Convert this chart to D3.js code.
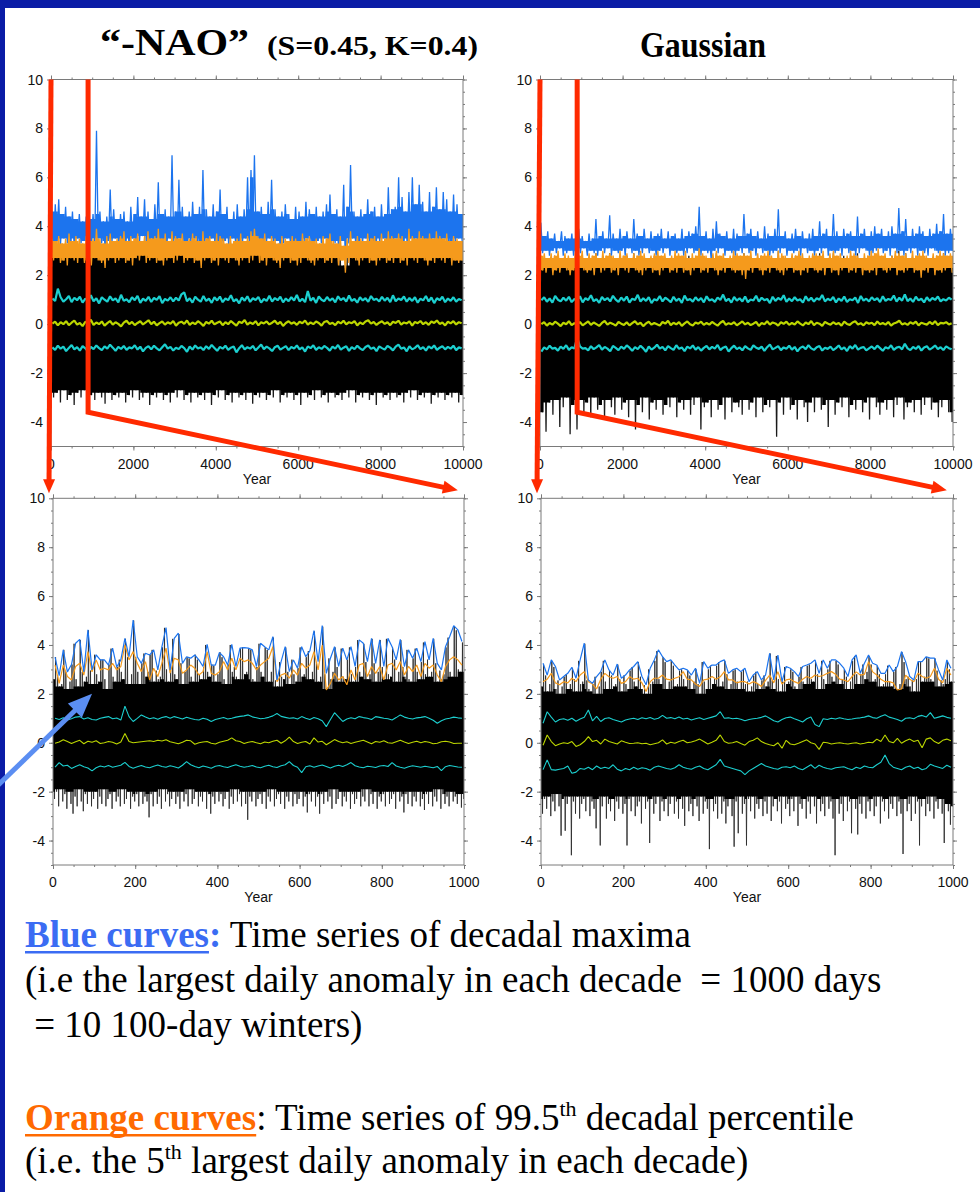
<!DOCTYPE html>
<html><head><meta charset="utf-8">
<script src="https://cdn.jsdelivr.net/npm/d3@7"></script>
<style>body{margin:0;background:#fff}svg{display:block}</style>
</head><body>
<script>
// ---------------- DATA ----------------
// x tick labels
const topTicks = [0,2000,4000,6000,8000,10000];
const botTicks = [0,200,400,600,800,1000];
const yTicks = [-4,-2,0,2,4,6,8,10];

// ===== Top-left "-NAO" (10000 years, 120 bins of envelope hi/lo) =====
const tlBlueHi = [4.6,4.9,5.1,4.5,4.8,4.4,4.6,4.3,4.5,4.2,4.4,4.3,4.5,7.9,4.6,4.2,4.4,5.5,4.7,4.3,4.5,4.6,4.2,4.8,4.5,5.2,4.4,5.1,4.6,4.3,4.9,5.8,4.5,4.7,4.4,6.9,4.6,5.9,4.8,4.4,4.6,5.0,4.5,4.8,6.3,4.7,4.4,4.9,4.6,5.5,4.5,4.8,4.3,4.6,4.9,4.4,4.7,6.0,6.3,6.9,4.6,4.8,4.5,5.0,5.9,4.7,4.4,4.6,4.9,4.5,4.3,4.8,4.6,4.4,5.0,4.7,4.5,4.8,4.4,4.6,4.9,5.3,4.5,4.7,4.4,5.7,4.8,6.5,4.6,4.4,4.7,4.5,5.1,4.6,4.8,4.4,4.9,4.5,5.6,4.7,4.8,6.0,5.2,4.6,5.4,6.0,4.9,5.7,5.0,4.6,5.4,4.8,5.6,4.7,5.4,5.1,4.6,5.3,4.9,4.5];
const tlBlueLo = [3.3,3.4,3.2,3.5,3.3,3.4,3.2,3.5,3.3,3.4,3.2,3.4,3.3,3.5,3.3,3.1,3.4,3.3,3.5,3.2,3.4,3.3,3.2,3.5,3.4,3.3,3.6,3.2,3.4,3.3,3.5,3.3,3.4,3.2,3.5,3.4,3.3,3.5,3.2,3.4,3.3,3.5,3.3,3.1,3.4,3.3,3.5,3.2,3.4,3.3,3.4,3.2,3.5,3.3,3.4,3.2,3.5,3.3,3.4,3.5,3.3,3.4,3.2,3.5,3.3,3.4,3.1,3.3,3.5,3.2,3.4,3.3,3.2,3.4,3.5,3.3,3.2,3.4,3.3,3.5,3.2,3.4,3.3,3.0,3.4,2.3,3.3,3.5,3.2,3.4,3.3,3.5,3.4,3.2,3.4,3.3,3.5,3.2,3.4,3.3,3.5,3.3,3.4,3.2,3.5,3.4,3.3,3.5,3.2,3.4,3.3,3.5,3.4,3.3,3.5,3.2,3.4,3.3,3.5,3.4];
const tlOrangeHi = [3.5,3.4,3.6,3.3,3.5,3.7,3.4,3.6,3.5,3.3,3.6,3.4,3.5,3.9,3.5,3.3,3.6,3.7,3.4,3.5,3.6,3.8,3.4,3.6,3.5,3.7,3.4,3.6,3.8,3.5,3.6,3.9,3.5,3.7,3.4,3.8,3.6,3.5,3.7,3.4,3.5,3.7,3.6,3.4,3.8,3.5,3.6,3.4,3.7,3.6,3.5,3.3,3.6,3.4,3.5,3.7,3.4,3.6,3.8,3.9,3.6,3.5,3.7,3.4,3.6,3.5,3.3,3.6,3.5,3.4,3.6,3.5,3.4,3.7,3.5,3.6,3.4,3.5,3.3,3.6,3.5,3.7,3.4,3.3,3.6,3.2,3.5,3.8,3.4,3.6,3.5,3.4,3.7,3.5,3.6,3.4,3.7,3.5,3.8,3.6,3.5,3.7,3.6,3.4,3.9,3.6,3.5,3.8,3.6,3.5,3.7,3.5,3.8,3.6,3.5,3.7,3.4,3.6,3.5,3.4];
const tlOrangeLo = [2.6,2.7,2.5,2.6,2.4,2.7,2.6,2.5,2.7,2.5,2.6,2.4,2.7,2.6,2.5,2.3,2.6,2.7,2.5,2.6,2.7,2.5,2.6,2.4,2.7,2.6,2.8,2.5,2.6,2.7,2.5,2.6,2.4,2.6,2.7,2.5,2.6,2.8,2.5,2.6,2.7,2.5,2.6,2.3,2.6,2.7,2.5,2.6,2.4,2.7,2.6,2.5,2.7,2.6,2.4,2.6,2.7,2.5,2.6,2.8,2.5,2.6,2.4,2.7,2.6,2.5,2.3,2.6,2.7,2.5,2.6,2.4,2.5,2.7,2.6,2.5,2.4,2.6,2.7,2.5,2.6,2.5,2.7,2.4,2.6,2.1,2.5,2.7,2.6,2.4,2.6,2.7,2.5,2.6,2.4,2.6,2.7,2.5,2.6,2.5,2.7,2.5,2.6,2.4,2.7,2.6,2.5,2.7,2.6,2.4,2.6,2.5,2.7,2.6,2.5,2.7,2.4,2.6,2.5,2.6];
const tlBlackHi = [3.0,2.8,3.2,2.9,3.1,2.7,3.3,2.9,3.0,2.8,3.1,2.9,3.2,3.4,2.8,3.0,2.9,3.2,3.0,2.8,3.1,3.0,2.8,3.2,2.9,3.1,3.0,3.3,2.9,2.8,3.1,3.2,2.9,3.0,2.8,3.3,3.0,3.1,2.9,2.8,3.0,3.2,2.9,2.8,3.3,3.0,2.9,3.1,2.8,3.2,3.0,2.9,3.1,2.8,3.0,3.2,2.9,3.3,3.1,3.4,3.0,2.9,3.1,2.8,3.2,3.0,2.7,3.0,3.1,2.9,3.0,2.8,2.9,3.1,3.0,3.2,2.8,3.0,2.9,3.1,3.0,3.2,2.9,2.7,3.0,2.4,2.9,3.3,3.0,2.8,3.1,2.9,3.2,3.0,3.1,2.8,3.2,3.0,3.3,3.1,3.0,3.3,3.1,2.9,3.4,3.2,3.0,3.3,3.1,2.9,3.2,3.0,3.3,3.1,3.0,3.2,2.9,3.1,3.0,2.9];
const tlBlackLo = [-3.0,-2.8,-3.2,-2.7,-3.1,-2.9,-3.3,-2.8,-3.0,-2.7,-3.2,-2.9,-3.1,-2.8,-3.0,-3.25,-2.8,-3.1,-2.9,-3.0,-2.8,-3.2,-2.9,-3.0,-2.7,-3.1,-3.0,-2.8,-3.3,-2.9,-3.0,-2.8,-3.1,-2.9,-3.2,-2.8,-3.0,-2.7,-3.1,-2.9,-3.2,-2.8,-3.0,-2.9,-3.1,-2.8,-3.3,-2.9,-3.0,-2.7,-3.1,-2.9,-3.2,-2.8,-3.0,-2.9,-3.1,-2.8,-3.25,-2.9,-3.0,-2.8,-3.1,-2.9,-3.0,-2.7,-3.2,-2.9,-3.0,-2.8,-3.1,-2.9,-3.3,-2.8,-3.0,-2.9,-3.1,-2.7,-3.0,-2.9,-3.2,-2.8,-3.0,-2.9,-3.1,-2.8,-3.0,-2.7,-3.2,-2.9,-3.0,-2.8,-3.1,-2.9,-3.3,-2.8,-3.0,-2.9,-3.1,-2.8,-3.0,-2.9,-3.2,-2.8,-3.0,-2.7,-3.1,-2.9,-3.0,-2.8,-3.25,-2.9,-3.0,-2.8,-3.1,-2.9,-3.0,-2.8,-3.2,-2.9];
const tlCyanHi = [1.05,0.95,1.45,1.10,0.92,1.02,1.15,0.90,1.08,0.98,1.12,0.88,1.04,0.96,1.18,0.94,1.06,0.85,1.10,1.00,0.92,1.14,0.97,1.05,0.89,1.20,0.95,1.02,0.90,1.10,0.98,1.16,0.87,1.04,0.95,1.12,0.91,1.07,0.99,1.15,0.86,1.03,0.96,1.10,0.93,1.08,0.97,1.22,1.30,0.94,1.06,0.88,1.12,1.00,0.92,1.15,0.95,1.04,0.87,1.10,0.97,1.13,0.90,1.05,0.98,1.18,0.93,1.02,0.85,1.09,0.96,1.14,0.91,1.06,0.99,1.11,0.88,1.03,0.95,1.16,0.92,1.07,0.98,1.12,0.89,1.05,0.94,1.10,0.97,1.19,0.93,1.04,0.90,1.35,0.96,1.08,0.87,1.13,1.00,0.94,1.11,0.96,1.05,0.89,1.14,0.98,1.07,0.92,1.17,0.95,1.03,0.88,1.10,0.97,1.06,0.91,1.15,0.99,1.04,0.93,1.12,0.96,1.08,0.90,1.18,0.94,1.05,0.99,1.13,0.92,1.07,0.95,1.10,0.88,1.04,0.97,1.15,0.93,1.09,0.86,1.06,0.98,1.12,0.90,1.05,0.95,1.10,0.92,1.03,0.98];
const tlYellow = [0.02,0.10,-0.05,0.08,0.00,0.12,-0.04,0.06,0.15,-0.02,0.05,-0.08,0.10,0.03,0.18,-0.03,0.07,0.00,0.11,-0.06,0.04,0.13,-0.02,0.08,0.01,-0.09,0.06,0.14,0.00,0.09,-0.04,0.05,0.12,-0.01,0.07,0.16,0.00,0.10,-0.05,0.04,0.11,-0.02,0.08,0.02,0.13,-0.06,0.06,0.10,0.01,0.15,-0.03,0.07,0.00,0.12,0.04,-0.07,0.09,0.02,0.14,-0.01,0.06,0.11,-0.04,0.08,0.00,0.13,0.03,-0.06,0.10,0.05,0.17,-0.02,0.07,0.01,0.12,-0.05,0.08,0.03,0.11,-0.01,0.06,0.14,0.00,0.09,-0.07,0.05,0.12,0.02,0.08,-0.03,0.10,0.04,0.15,-0.02,0.07,0.00,0.11,0.05,-0.06,0.09,0.13,0.01,0.06,-0.04,0.10,0.03,0.14,-0.01,0.08,0.04,0.12,-0.05,0.07,0.00,0.11,0.16,0.02,0.09,-0.03,0.06,0.12,0.01,0.08,-0.04,0.10,0.05,0.14,-0.02,0.07,0.03,0.11,-0.06,0.09,0.04,0.13,0.00,0.08,-0.03,0.11,0.05,0.15,0.01,0.07,-0.05,0.10,0.03,0.12,-0.01,0.08,0.04];
const tlCyanLo = [-0.95,-1.05,-0.88,-1.00,-0.92,-1.10,-0.97,-0.85,-1.03,-0.94,-1.08,-0.90,-0.99,-1.12,-0.93,-1.02,-0.87,-0.98,-1.06,-0.91,-1.00,-0.84,-0.96,-1.09,-0.93,-1.01,-0.89,-1.05,-0.95,-0.99,-0.86,-1.04,-0.92,-1.11,-0.97,-0.90,-1.03,-0.88,-0.99,-1.07,-0.94,-0.82,-1.00,-0.93,-1.08,-0.96,-1.02,-0.89,-0.98,-1.13,-0.91,-1.04,-0.87,-0.99,-0.94,-1.06,-0.90,-1.01,-0.85,-0.97,-1.09,-0.93,-1.00,-0.88,-1.05,-0.96,-0.91,-1.15,-0.98,-0.86,-1.03,-0.94,-1.00,-0.89,-1.07,-0.95,-0.83,-1.02,-0.92,-0.99,-1.10,-0.94,-0.88,-1.04,-0.97,-0.90,-1.06,-0.93,-1.00,-0.87,-1.03,-0.95,-1.12,-0.91,-0.98,-0.86,-1.05,-0.94,-1.01,-0.89,-0.97,-1.08,-0.92,-1.00,-0.85,-1.04,-0.96,-0.90,-1.09,-0.94,-1.02,-0.88,-0.99,-1.06,-0.93,-0.87,-1.01,-0.95,-1.10,-0.91,-0.98,-1.04,-0.89,-0.96,-1.07,-0.92,-0.84,-1.00,-0.95,-1.11,-0.90,-1.03,-0.97,-0.86,-1.02,-0.94,-1.08,-0.91,-0.99,-0.87,-1.05,-0.96,-0.90,-1.03,-0.93,-1.00,-0.88,-1.06,-0.95,-0.99];

// ===== Top-right "Gaussian" =====
const trBlueHi = [4.15,3.6,3.8,3.5,3.7,3.4,3.8,3.6,3.5,3.7,3.5,3.9,3.6,3.4,3.7,3.5,4.3,3.6,3.8,3.5,4.45,3.7,3.5,3.9,3.6,3.8,3.5,4.3,3.7,3.6,3.9,3.5,3.8,3.6,3.7,3.9,3.5,3.8,3.6,3.7,3.5,3.9,3.6,3.8,3.7,4.0,4.8,3.6,3.8,3.5,3.9,4.2,3.7,3.6,3.8,3.5,3.9,3.7,3.6,4.5,3.7,3.9,3.6,3.8,3.5,4.0,3.7,3.6,3.9,4.7,3.6,3.8,3.5,3.7,3.9,3.6,3.8,3.5,3.7,3.9,3.6,4.2,3.7,3.9,3.6,4.5,3.8,3.6,3.9,3.7,3.8,3.6,4.4,3.7,3.9,3.6,3.8,4.0,3.7,3.9,3.6,3.8,4.0,3.7,4.75,3.8,4.3,3.6,3.9,3.7,4.0,3.8,3.6,3.9,3.7,4.1,3.8,4.5,3.7,3.9];
const trBlueLo = [2.9,3.0,2.8,3.0,2.9,3.1,2.8,2.9,3.0,2.8,3.0,2.9,3.1,2.8,3.0,2.9,2.8,3.0,2.9,3.1,2.8,3.0,2.9,3.0,2.8,3.1,2.9,3.0,2.8,2.9,3.1,2.9,3.0,2.8,3.0,2.9,3.1,2.8,3.0,2.9,3.0,2.8,2.9,3.1,2.9,3.0,2.8,3.0,2.9,2.6,3.0,2.9,3.1,2.8,3.0,2.9,2.8,3.0,2.9,3.1,2.9,3.0,2.8,3.1,2.9,3.0,2.8,2.9,3.0,2.9,3.1,2.8,3.0,2.9,3.0,2.8,3.1,2.9,3.0,2.8,3.0,2.9,3.1,2.8,3.0,2.9,3.0,2.8,3.1,2.9,3.0,2.8,2.9,3.1,3.0,2.8,2.9,3.0,3.1,2.9,3.0,2.8,3.1,2.9,3.0,2.8,3.0,2.9,3.1,2.8,3.0,2.9,2.8,3.1,3.0,2.9,3.0,2.8,2.9,3.0];
const trOrangeHi = [2.8,2.9,2.7,2.9,2.8,3.0,2.7,2.9,2.8,2.7,2.9,2.8,3.0,2.7,2.9,2.8,2.9,2.7,3.0,2.8,2.9,2.8,2.7,3.0,2.8,2.9,2.7,2.9,2.8,3.0,2.9,2.7,2.8,2.9,3.0,2.8,2.9,2.7,2.8,3.0,2.9,2.8,3.0,2.7,2.9,2.8,3.1,2.9,2.8,2.7,2.9,3.0,2.8,2.9,2.7,2.8,3.0,2.9,2.8,2.9,2.8,3.0,2.7,2.9,2.8,2.9,3.0,2.8,2.7,3.0,2.9,2.8,2.7,2.9,2.8,3.0,2.9,2.7,2.8,2.9,2.9,2.8,3.0,2.7,2.9,3.0,2.8,2.9,2.7,2.8,3.0,2.9,2.8,2.7,2.9,2.8,3.0,2.9,3.1,2.8,2.9,2.7,2.8,3.0,2.9,2.8,2.9,2.7,3.0,2.8,2.9,3.0,2.8,2.7,2.9,2.8,3.0,2.9,2.8,2.9];
const trOrangeLo = [2.2,2.1,2.3,2.0,2.2,2.1,2.3,2.2,2.0,2.2,2.1,2.3,2.2,2.1,2.2,2.0,2.3,2.1,2.2,2.3,2.1,2.2,2.0,2.3,2.2,2.1,2.3,2.2,2.1,2.0,2.2,2.3,2.1,2.2,2.0,2.2,2.3,2.1,2.2,2.1,2.3,2.1,2.2,2.0,2.2,2.3,2.1,2.2,2.1,2.3,2.2,2.0,2.2,2.1,2.3,2.2,2.1,2.2,2.0,1.85,2.2,2.1,2.3,2.2,2.0,2.2,2.1,2.3,2.2,2.1,2.0,2.2,2.3,2.1,2.2,2.0,2.2,2.1,2.3,2.2,2.1,2.2,2.0,2.3,2.1,2.2,2.0,2.2,2.3,2.1,2.2,2.1,2.3,2.0,2.2,2.1,2.2,2.0,2.3,2.2,2.1,2.2,2.3,2.0,2.2,2.1,2.2,2.3,2.1,2.2,1.9,2.2,2.1,2.3,2.0,2.2,2.1,2.2,2.3,2.1];
const trBlackHi = [2.6,2.4,2.7,2.5,2.8,2.4,2.6,2.5,2.7,2.4,2.6,2.8,2.5,2.4,2.7,2.6,2.9,2.5,2.7,2.4,2.9,2.6,2.5,2.7,2.4,2.8,2.5,2.9,2.6,2.5,2.7,2.4,2.6,2.8,2.5,2.7,2.4,2.6,2.5,2.8,2.6,2.7,2.5,2.8,2.4,2.6,3.0,2.5,2.7,2.4,2.6,2.9,2.5,2.7,2.6,2.4,2.8,2.5,2.6,2.9,2.5,2.7,2.4,2.6,2.8,2.5,2.7,2.4,2.6,3.0,2.5,2.7,2.4,2.6,2.8,2.5,2.7,2.4,2.6,2.8,2.5,2.9,2.6,2.7,2.4,2.9,2.6,2.5,2.8,2.4,2.7,2.5,2.9,2.6,2.7,2.4,2.6,2.8,2.5,2.7,2.6,2.4,2.8,2.5,3.0,2.6,2.9,2.4,2.7,2.5,2.8,2.6,2.4,2.7,2.5,2.8,2.6,2.9,2.5,2.7];
const trBlackLo = [-3.6,-4.4,-3.2,-3.7,-3.1,-4.2,-3.4,-3.0,-4.5,-3.3,-4.3,-3.1,-3.6,-3.2,-3.8,-3.0,-3.5,-3.3,-3.9,-3.1,-3.4,-3.7,-3.0,-3.5,-3.2,-3.8,-3.1,-4.3,-3.3,-3.6,-3.0,-3.9,-3.2,-3.5,-3.1,-3.7,-3.3,-3.4,-3.0,-3.8,-3.2,-3.5,-3.1,-3.7,-3.3,-3.0,-4.3,-3.4,-3.2,-3.8,-3.1,-3.5,-3.3,-3.9,-3.0,-3.6,-3.2,-3.4,-3.7,-3.1,-3.5,-3.2,-3.8,-3.0,-3.6,-3.3,-3.4,-3.1,-4.6,-3.2,-3.7,-3.0,-3.5,-3.3,-3.9,-3.1,-3.4,-4.0,-3.2,-3.6,-3.0,-3.5,-3.3,-4.2,-3.1,-3.7,-3.2,-3.4,-3.0,-3.8,-3.3,-3.5,-3.1,-3.6,-3.2,-3.9,-3.0,-3.4,-3.7,-3.2,-3.5,-3.1,-3.8,-3.3,-3.0,-3.9,-3.4,-3.2,-3.6,-3.1,-3.7,-3.3,-3.0,-3.5,-3.2,-3.8,-3.4,-3.1,-3.6,-4.0];
const trCyanHi = [0.98,1.10,0.92,1.05,0.88,1.15,1.00,0.93,1.08,0.96,1.12,0.90,1.03,0.97,1.14,0.89,1.06,0.99,1.18,0.94,1.02,0.87,1.11,0.98,1.07,0.93,1.16,1.00,0.91,1.09,0.96,1.13,0.88,1.04,0.99,1.20,0.92,1.06,0.95,1.10,0.86,1.02,0.97,1.15,0.93,1.08,1.00,0.90,1.12,0.95,1.05,0.87,1.17,0.98,1.03,0.92,1.10,0.96,1.07,0.89,1.14,0.97,1.02,0.91,1.09,0.99,1.21,0.94,1.04,0.88,1.11,0.96,1.06,0.93,1.13,0.90,1.01,0.97,1.16,0.92,1.08,0.98,1.03,0.86,1.12,0.95,1.07,0.99,1.18,0.91,1.05,0.94,1.10,0.97,1.02,0.88,1.14,0.96,1.08,0.92,1.06,1.00,1.19,0.93,1.04,0.97,1.11,0.89,1.05,0.95,1.13,0.91,1.02,0.98,1.09,0.87,1.15,0.96,1.04,0.93,1.10,0.98,1.06,0.90,1.14,0.95,1.03,0.99,1.17,0.92,1.08,0.96,1.22,0.94,1.05,0.91,1.12,0.97,1.04,0.89,1.10,0.95,1.07,0.99,1.13,0.93,1.02,0.97,1.08,1.00];
const trYellow = [0.00,0.08,-0.06,0.05,-0.02,0.10,0.02,-0.08,0.06,0.00,0.12,-0.04,0.04,-0.01,0.09,-0.05,0.03,0.11,-0.03,0.07,0.00,-0.07,0.05,0.13,-0.02,0.06,0.01,-0.06,0.09,0.02,-0.03,0.08,-0.05,0.04,0.12,-0.01,0.06,-0.08,0.03,0.10,-0.02,0.05,0.00,-0.06,0.09,0.02,0.14,-0.04,0.06,-0.01,0.08,-0.07,0.03,0.11,0.00,-0.05,0.07,0.02,0.10,-0.03,0.05,-0.02,0.09,0.01,-0.06,0.06,0.13,-0.03,0.04,0.00,0.08,-0.05,0.03,0.11,-0.01,0.06,-0.04,0.02,0.09,-0.07,0.05,0.00,0.12,-0.02,0.07,0.03,-0.06,0.08,0.01,0.10,-0.03,0.05,-0.01,0.11,0.02,-0.05,0.07,0.00,0.13,-0.04,0.06,0.02,-0.07,0.09,0.03,-0.02,0.08,0.00,0.05,-0.06,0.10,0.01,-0.03,0.07,0.12,-0.01,0.04,-0.05,0.08,0.02,0.06,-0.04,0.11,0.00,0.05,-0.02,0.09,-0.06,0.03,0.07,0.14,-0.01,0.04,-0.03,0.08,0.01,0.10,-0.05,0.06,0.02,-0.02,0.09,0.00,0.12,-0.04,0.05,0.03,0.08,-0.01,0.04];
const trCyanLo = [-1.12,-0.95,-1.03,-0.88,-1.00,-0.97,-1.08,-0.92,-1.01,-0.86,-1.05,-0.94,-0.99,-0.55,-0.91,-1.00,-0.98,-1.07,-0.90,-1.02,-0.95,-0.85,-1.04,-0.93,-1.00,-1.11,-0.89,-0.97,-1.06,-0.92,-1.01,-0.87,-0.96,-1.09,-0.94,-1.02,-0.88,-0.99,-1.13,-0.91,-1.04,-0.96,-0.84,-1.00,-0.93,-1.07,-0.90,-0.98,-1.05,-0.86,-1.01,-0.95,-1.10,-0.92,-0.99,-0.87,-1.04,-0.94,-1.08,-0.97,-0.89,-1.03,-0.93,-1.00,-0.85,-1.06,-0.96,-0.91,-1.12,-0.98,-0.88,-1.02,-0.95,-1.07,-0.90,-0.99,-1.05,-0.87,-0.96,-1.01,-0.92,-1.09,-0.94,-0.83,-1.03,-0.97,-0.90,-1.06,-0.95,-1.00,-0.88,-1.04,-0.93,-1.11,-0.97,-0.91,-1.02,-0.86,-0.99,-1.05,-0.94,-0.89,-1.08,-0.96,-1.01,-0.92,-1.06,-0.98,-0.87,-1.03,-0.95,-1.10,-0.90,-1.00,-0.85,-1.04,-0.97,-0.93,-1.07,-0.99,-0.91,-1.02,-0.88,-0.98,-1.09,-0.94,-1.00,-0.86,-1.05,-0.96,-0.92,-1.03,-0.80,-0.99,-1.06,-0.93,-1.01,-0.89,-1.08,-0.95,-0.90,-1.04,-0.97,-0.87,-1.02,-0.94,-1.06,-0.91,-0.98,-1.03];

// ===== Bottom-left "-NAO" zoom (1000 years, decadal) =====
const blBlue = [3.5,2.75,3.8,2.9,3.2,4.07,4.23,2.9,4.62,2.98,3.6,3.39,3.39,3.18,3.87,3.1,3.39,4.27,3.52,5.02,3.52,3.25,3.66,3.59,3.8,2.98,3.93,4.71,2.98,4.27,4.48,3.25,3.52,3.46,3.59,3.39,3.12,4.03,3.18,3.18,3.69,3.52,3.18,4.03,3.12,3.87,3.89,3.87,3.8,3.12,4.07,3.93,3.8,4.34,2.57,3.32,3.93,2.91,3.39,3.05,3.93,3.52,3.76,4.59,3.32,4.79,2.84,3.46,3.93,3.12,3.87,3.39,3.93,3.12,4.21,4.07,3.32,4.27,3.25,4.21,3.12,4.27,3.93,3.39,4.23,3.12,3.8,3.46,3.87,3.32,4.14,3.39,4.27,3.25,2.98,3.93,4.34,4.79,4.62,4.14];
const blOrange = [3.18,2.43,3.18,2.71,2.57,3.12,3.25,2.77,3.73,2.9,3.39,2.98,3.05,2.98,3.25,2.98,3.12,4.0,3.39,3.73,3.25,2.91,3.32,2.57,3.05,2.71,3.25,3.87,2.85,3.46,3.39,2.84,2.98,3.18,3.05,2.77,2.91,3.73,2.84,2.77,2.91,3.32,2.98,3.46,2.98,3.46,3.32,3.39,3.25,2.98,3.18,3.32,3.46,3.93,2.5,2.77,2.84,2.64,2.98,2.77,3.25,3.05,3.18,3.73,2.98,4.0,2.16,2.43,2.84,2.57,2.71,2.37,2.98,2.57,3.18,3.25,2.71,3.12,2.84,3.12,2.57,3.18,3.25,2.98,3.32,2.77,3.12,2.91,3.18,2.71,3.25,3.05,3.18,2.77,2.5,3.12,3.39,3.52,3.39,3.18];
const blCyanHi = [1.00,0.95,1.02,0.93,0.98,1.05,1.07,0.97,1.02,0.95,0.93,1.00,1.04,1.07,0.98,1.01,0.93,1.50,1.07,0.87,1.00,1.14,1.05,0.98,1.02,0.96,1.03,1.07,1.00,1.07,1.02,0.97,1.04,0.99,0.95,0.93,1.00,0.96,0.87,0.95,0.99,1.03,0.97,1.00,1.05,1.08,1.10,1.14,1.06,1.02,0.98,1.00,1.04,1.10,1.20,1.08,1.04,1.00,1.02,0.97,1.07,1.00,0.95,1.03,0.98,0.90,0.66,0.95,1.23,1.05,0.87,0.97,1.02,0.98,1.07,1.03,1.00,0.95,1.07,1.04,1.00,0.98,0.93,1.03,1.14,1.05,1.00,0.97,1.02,1.04,1.07,1.00,0.92,0.80,0.90,0.97,1.00,1.05,1.02,1.00];
const blYellow = [-0.02,0.03,0.12,0.05,-0.03,0.04,0.10,-0.04,0.06,0.02,0.08,-0.03,0.00,0.05,0.02,-0.05,0.03,0.38,0.05,0.00,0.02,0.04,0.06,0.08,0.05,0.10,0.07,0.12,0.04,0.00,-0.04,0.02,0.10,0.08,-0.06,0.00,0.03,0.05,-0.02,-0.05,0.02,0.06,0.10,0.20,0.08,0.05,-0.03,0.02,0.05,0.00,-0.04,0.03,0.00,0.06,0.10,-0.02,0.08,0.23,0.05,-0.03,0.02,0.05,-0.05,0.20,0.03,0.06,-0.08,0.02,0.13,0.05,0.00,0.04,-0.03,0.02,0.06,0.10,0.03,-0.04,0.05,0.02,0.08,0.00,-0.02,0.04,0.10,0.03,-0.03,0.02,0.06,0.00,0.05,0.02,-0.04,-0.02,0.04,0.06,0.03,-0.03,-0.02,-0.02];
const blCyanLo = [-1.00,-0.81,-0.95,-0.92,-1.05,-0.97,-0.90,-0.98,-1.03,-1.15,-1.02,-0.95,-0.99,-0.93,-1.00,-0.96,-0.92,-0.80,-0.97,-1.04,-0.98,-0.93,-0.99,-1.02,-0.96,-0.91,-0.97,-1.00,-0.94,-0.98,-1.03,-0.92,-0.77,-0.90,-0.97,-1.02,-0.95,-0.99,-1.04,-0.96,-0.93,-0.98,-1.01,-0.95,-0.90,-0.96,-1.00,-0.97,-0.93,-0.99,-1.02,-0.96,-0.92,-0.98,-1.01,-0.94,-0.90,-0.77,-0.93,-1.00,-1.22,-0.98,-0.94,-1.00,-0.95,-0.91,-0.97,-1.03,-0.96,-0.92,-0.97,-0.90,-0.81,-0.94,-0.99,-1.02,-0.96,-0.98,-1.01,-0.95,-0.93,-0.97,-0.81,-0.95,-1.00,-1.04,-0.98,-0.94,-0.97,-1.00,-0.96,-0.99,-1.02,-0.97,-1.14,-0.98,-0.93,-0.96,-0.99,-1.00];
const blBlackHi = [2.6,3.5,2.75,2.3,2.4,3.8,2.9,2.2,2.5,3.2,4.05,2.6,2.3,4.2,2.9,2.5,2.7,4.6,2.95,2.4,3.6,2.8,2.5,3.4,3.4,2.6,2.2,3.2,3.85,2.7,2.5,3.1,3.4,2.9,2.6,4.25,3.5,2.4,2.8,5.0,3.5,2.9,2.4,3.25,3.65,2.7,2.9,3.6,3.8,2.5,2.95,2.6,2.7,3.9,4.7,3.0,2.5,2.95,4.25,2.8,2.6,4.45,3.25,2.4,2.9,3.5,3.45,2.7,2.5,3.6,3.4,2.8,2.6,3.1,4.0,2.9,2.7,3.2,3.15,2.5,2.8,3.7,3.5,2.6,2.4,3.2,4.0,2.9,3.1,2.7,2.6,3.85,3.9,2.8,2.9,3.85,3.8,2.6,2.5,3.1,4.05,2.9,2.7,3.9,3.8,2.5,2.9,4.3,2.55,2.3,3.3,2.7,2.6,3.9,2.9,2.4,3.4,2.8,2.5,3.05,3.9,2.7,2.8,3.5,3.75,2.6,2.9,4.55,3.3,2.5,2.7,4.75,2.8,2.2,3.45,2.6,2.9,3.9,3.1,2.5,3.85,2.7,2.6,3.4,3.9,2.8,2.5,3.1,4.2,2.9,2.7,4.05,3.3,2.6,2.8,4.25,3.25,2.5,2.9,4.2,3.1,2.6,4.25,2.8,2.7,3.9,3.4,2.5,2.9,4.2,3.1,2.7,3.8,2.6,2.5,3.45,3.85,2.9,2.6,3.3,4.1,2.8,3.4,2.7,2.9,4.25,3.25,2.5,2.95,2.6,2.8,3.9,4.3,2.9,2.7,4.75,4.6,3.0,2.9,4.1];
const blBlackLo = [-2.3,-2.0,-2.6,-1.9,-2.4,-2.1,-2.7,-2.0,-2.5,-2.9,-2.2,-2.6,-1.9,-2.4,-2.8,-2.1,-2.5,-2.0,-2.6,-2.3,-2.0,-2.7,-2.2,-2.5,-1.9,-2.6,-2.3,-2.1,-2.7,-2.0,-2.4,-2.2,-2.6,-1.9,-2.5,-2.3,-2.0,-2.7,-2.2,-2.4,-2.1,-2.6,-2.0,-2.5,-2.2,-2.4,-3.05,-2.1,-2.6,-2.0,-2.5,-2.2,-2.7,-1.9,-2.4,-2.1,-2.6,-2.3,-2.0,-2.5,-2.2,-2.7,-2.0,-2.4,-2.1,-2.6,-1.9,-2.5,-2.3,-2.0,-2.6,-2.2,-2.4,-2.0,-2.7,-2.1,-2.9,-2.2,-2.5,-2.0,-2.4,-2.1,-2.6,-2.3,-2.0,-2.7,-2.2,-2.5,-1.9,-2.4,-2.1,-2.6,-2.0,-2.5,-3.15,-2.2,-2.4,-2.0,-2.6,-2.3,-2.1,-2.5,-2.0,-2.7,-2.2,-2.4,-1.9,-2.6,-2.3,-2.1,-2.5,-2.0,-2.7,-2.2,-2.4,-2.0,-2.6,-2.1,-2.5,-2.3,-2.0,-2.6,-2.2,-2.85,-2.1,-2.4,-2.0,-2.6,-2.2,-2.9,-2.1,-2.5,-2.0,-2.4,-2.2,-2.7,-1.9,-2.5,-2.3,-2.0,-2.6,-2.2,-2.4,-2.0,-2.7,-2.1,-2.5,-2.3,-2.0,-2.6,-2.2,-2.4,-1.9,-2.6,-2.1,-2.5,-2.0,-2.7,-2.2,-2.4,-2.1,-2.6,-2.0,-2.5,-2.3,-2.1,-2.7,-2.0,-2.4,-2.2,-2.85,-2.1,-2.5,-2.0,-2.6,-2.2,-2.4,-2.0,-2.6,-2.3,-2.75,-2.1,-2.5,-2.0,-2.6,-2.2,-2.4,-1.9,-2.7,-2.1,-2.5,-2.2,-2.6,-2.0,-2.4,-2.2,-2.5,-2.1,-2.65,-2.3];

// ===== Bottom-right "Gaussian" zoom =====
const brBlue = [3.25,2.77,3.39,3.12,2.57,2.71,2.84,3.09,2.64,3.39,4.07,2.57,2.43,2.71,2.91,3.39,2.98,2.77,3.22,2.64,2.77,2.98,3.12,3.32,2.71,2.37,3.05,3.39,3.8,3.52,3.32,3.39,3.18,2.98,3.05,2.98,2.77,3.05,2.43,3.32,3.05,3.18,3.18,3.32,3.39,2.84,2.98,3.05,2.91,3.05,2.5,2.77,2.91,2.57,2.77,3.66,2.57,3.59,2.5,3.12,3.05,2.91,2.71,3.12,3.18,3.25,3.39,2.84,3.39,3.05,3.39,3.39,3.25,3.05,2.71,3.39,3.59,2.84,3.25,3.59,3.25,3.18,2.84,2.84,3.18,2.91,3.12,3.73,3.32,2.71,2.57,3.32,3.32,3.52,3.46,3.46,2.98,2.57,3.39,3.05];
const brOrange = [2.5,2.6,2.84,2.45,2.37,2.5,2.45,2.64,2.5,2.77,2.91,2.5,2.4,2.2,2.6,2.84,2.7,2.64,2.71,2.43,2.5,2.71,2.6,2.64,2.45,2.1,2.5,2.64,2.64,2.77,2.6,2.57,2.64,2.7,2.91,2.6,2.57,2.4,2.3,2.57,2.6,2.71,2.6,2.7,2.91,2.57,2.57,2.45,2.5,2.5,2.4,2.5,2.43,2.3,2.55,2.77,2.45,2.91,2.4,2.57,2.6,2.5,2.43,2.6,2.71,2.64,2.77,2.71,2.75,2.84,2.91,2.8,2.6,2.57,2.5,2.71,2.9,2.77,2.8,3.32,2.9,2.77,2.6,2.5,2.5,2.45,2.16,2.2,2.77,2.6,2.5,2.84,2.71,2.64,2.71,3.05,2.6,2.45,3.05,2.77];
const brCyanHi = [0.80,1.27,1.05,0.85,0.95,0.98,0.92,1.00,0.88,0.97,1.04,1.34,0.90,1.08,0.87,0.99,1.02,0.95,0.90,0.85,0.93,0.97,1.00,0.95,1.02,0.98,1.03,0.96,1.00,1.12,1.00,1.03,0.98,1.05,0.97,1.00,0.93,0.98,1.02,0.95,1.00,1.05,1.10,1.27,1.00,1.02,0.98,1.00,0.96,0.90,0.95,0.98,1.00,1.04,1.10,1.00,0.90,0.85,0.95,1.02,1.05,0.98,0.92,0.85,0.98,1.05,0.75,0.66,0.98,0.95,1.00,0.97,1.02,0.98,0.95,0.97,1.00,1.02,1.05,1.10,1.03,1.00,1.08,1.15,1.05,1.00,0.95,0.88,1.00,1.02,0.98,1.08,1.12,1.05,1.23,1.00,1.05,1.10,1.04,1.00];
const brYellow = [-0.10,0.32,0.05,-0.12,-0.05,0.00,-0.03,0.05,-0.15,-0.08,0.05,0.25,0.05,0.10,-0.05,0.15,0.05,0.00,-0.05,0.08,0.02,-0.03,-0.02,0.00,-0.04,-0.02,-0.08,-0.04,0.00,0.12,-0.05,0.02,-0.02,0.05,0.10,0.00,0.03,0.08,0.15,0.05,-0.05,0.02,0.10,0.32,0.05,-0.02,0.00,0.05,-0.03,-0.10,0.05,0.10,0.20,0.05,-0.03,-0.08,-0.12,0.00,-0.22,0.10,-0.05,-0.08,-0.02,0.05,0.12,0.00,-0.05,-0.27,0.02,0.00,-0.05,-0.02,0.00,-0.03,-0.05,-0.02,0.00,-0.05,-0.02,0.02,0.00,0.15,0.05,0.32,0.05,0.00,0.18,-0.02,0.08,0.15,0.05,0.10,-0.20,0.15,0.20,0.05,-0.03,0.10,0.15,0.08];
const brCyanLo = [-1.10,-0.70,-1.10,-1.12,-1.08,-1.05,-0.95,-1.25,-1.20,-1.05,-1.08,-1.00,-1.10,-0.95,-1.05,-1.00,-1.05,-0.90,-1.08,-1.15,-1.05,-1.10,-1.00,-1.08,-1.02,-1.05,-1.12,-1.00,-0.95,-1.00,-1.05,-1.08,-1.02,-0.90,-1.00,-1.05,-1.08,-1.00,-0.95,-1.05,-1.10,-1.00,-0.90,-0.68,-0.95,-1.00,-1.05,-1.10,-1.15,-1.30,-1.15,-1.05,-0.95,-0.85,-0.95,-1.00,-1.05,-1.08,-1.00,-0.98,-1.02,-0.95,-1.05,-1.10,-1.00,-0.90,-1.05,-0.92,-1.00,-1.05,-1.08,-1.02,-1.00,-0.98,-1.05,-1.10,-1.00,-1.05,-0.95,-1.00,-1.02,-0.90,-0.80,-0.50,-0.85,-1.00,-1.05,-1.10,-1.00,-0.95,-1.05,-1.00,-1.10,-1.05,-0.88,-0.95,-1.00,-1.05,-0.92,-1.00];
const brBlackHi = [2.3,3.2,2.75,2.1,2.4,3.35,3.1,2.2,2.55,2.0,2.3,2.7,2.8,2.2,2.4,3.05,2.6,2.1,3.35,2.4,2.5,4.05,2.55,2.2,2.1,2.4,2.7,2.0,2.3,2.9,3.35,2.5,2.2,2.95,2.75,2.3,2.4,3.2,2.6,2.1,2.75,2.4,2.2,2.95,3.1,2.5,2.3,3.3,2.7,2.2,2.35,2.0,3.0,2.4,2.5,3.35,3.75,2.6,2.4,3.5,3.3,2.2,2.5,3.35,3.15,2.3,2.4,2.95,3.0,2.6,2.3,2.95,2.75,2.2,2.5,3.0,2.4,2.0,3.3,2.5,2.2,3.0,3.15,2.4,2.6,3.15,3.3,2.3,2.5,3.35,2.8,2.2,2.4,2.95,3.0,2.5,2.2,2.9,3.0,2.4,2.5,2.1,2.3,2.75,2.9,2.4,2.2,2.55,2.75,2.3,2.5,3.65,2.55,2.2,3.55,2.6,2.1,2.5,3.1,2.4,2.5,3.0,2.9,2.3,2.2,2.7,3.1,2.5,2.4,3.15,3.2,2.6,2.5,3.35,2.8,2.2,3.35,2.6,2.4,3.0,3.35,2.7,2.5,3.35,3.2,2.4,2.6,3.0,2.7,2.2,2.5,3.35,3.55,2.8,2.4,2.8,3.2,2.6,2.9,3.55,3.2,2.5,2.6,3.15,2.8,2.3,2.4,2.8,3.15,2.5,2.3,2.9,3.1,2.2,2.4,3.7,3.3,2.6,2.7,2.3,2.55,2.1,2.6,3.3,3.3,2.5,2.7,3.5,3.45,2.6,2.5,3.45,2.95,2.3,2.55,2.4,2.6,3.35,3.0,2.5];
const brBlackLo = [-2.9,-2.3,-2.7,-2.2,-3.0,-2.4,-2.8,-2.1,-2.6,-3.8,-2.3,-3.6,-2.5,-2.2,-4.6,-2.4,-2.9,-2.2,-3.1,-2.5,-2.3,-2.8,-2.2,-3.0,-2.4,-2.7,-3.5,-2.3,-4.2,-2.6,-2.2,-3.1,-2.5,-2.8,-2.3,-3.2,-2.4,-2.7,-2.2,-2.9,-2.5,-4.2,-2.3,-2.8,-2.2,-3.0,-2.6,-2.4,-3.3,-2.2,-2.7,-2.4,-4.1,-2.3,-2.9,-2.5,-2.2,-3.2,-2.4,-2.8,-2.3,-3.0,-2.5,-2.2,-2.9,-2.4,-3.1,-2.3,-2.7,-3.4,-2.2,-2.8,-2.5,-3.0,-2.3,-2.6,-3.2,-2.2,-2.9,-2.4,-2.7,-4.35,-2.3,-2.8,-2.5,-3.1,-2.2,-2.9,-2.4,-3.3,-2.6,-2.3,-3.0,-4.25,-2.4,-3.7,-2.2,-2.9,-2.5,-4.2,-2.3,-2.8,-2.2,-3.1,-2.5,-2.7,-2.3,-3.0,-2.4,-2.9,-2.2,-3.2,-2.6,-2.3,-2.8,-2.4,-3.3,-2.2,-2.7,-2.5,-3.0,-2.3,-2.8,-2.2,-3.4,-2.5,-2.7,-2.3,-3.1,-2.4,-2.9,-2.2,-2.6,-3.3,-2.3,-2.8,-2.5,-3.0,-2.2,-2.7,-2.4,-3.1,-4.6,-2.3,-2.9,-2.5,-3.2,-2.2,-2.8,-2.4,-3.7,-2.3,-2.7,-3.75,-2.5,-2.9,-2.2,-3.1,-2.4,-2.8,-2.3,-3.0,-2.6,-2.2,-3.3,-2.4,-2.8,-2.3,-3.1,-2.5,-2.7,-2.2,-3.0,-2.4,-2.9,-4.55,-2.3,-2.8,-2.5,-3.2,-2.2,-2.9,-2.4,-4.2,-2.6,-2.3,-3.0,-2.5,-2.8,-2.2,-3.1,-2.4,-2.7,-2.3,-2.9,-4.1,-2.5,-2.8,-3.35,-2.6];

// ---------------- DRAWING ----------------
const W = 980, H = 1192;
const svg = d3.select('body').append('svg').attr('width', W).attr('height', H)
  .style('font-family', '"Liberation Sans", Arial, Helvetica, sans-serif');
svg.append('rect').attr('width', W).attr('height', H).attr('fill', '#fff');

const C = {blue:'#1c74ee', orange:'#f59a1c', cyan:'#1ccfcf', yellow:'#bcd600', black:'#000', axis:'#7a7a7a'};

const panels = [
  {id:'tl', span:10000, x0:51, x1:463, y0:79.5, y1:446.5, major:2000, minor:500, ticks:topTicks, top:true,
   blueHi:tlBlueHi, blueLo:tlBlueLo, orHi:tlOrangeHi, orLo:tlOrangeLo, bkHi:tlBlackHi, bkLo:tlBlackLo,
   cHi:tlCyanHi, yel:tlYellow, cLo:tlCyanLo, labelY:469, yearY:484},
  {id:'tr', span:10000, x0:540, x1:953, y0:79.5, y1:446.5, major:2000, minor:500, ticks:topTicks, top:true,
   blueHi:trBlueHi, blueLo:trBlueLo, orHi:trOrangeHi, orLo:trOrangeLo, bkHi:trBlackHi, bkLo:trBlackLo,
   cHi:trCyanHi, yel:trYellow, cLo:trCyanLo, labelY:469, yearY:484},
  {id:'bl', span:1000, x0:53, x1:464, y0:498.3, y1:865, major:200, minor:50, ticks:botTicks, top:false,
   blue:blBlue, or:blOrange, bkHi:blBlackHi, bkLo:blBlackLo, cHi:blCyanHi, yel:blYellow, cLo:blCyanLo, labelY:887, yearY:902},
  {id:'br', span:1000, x0:541, x1:953, y0:498.3, y1:865, major:200, minor:50, ticks:botTicks, top:false,
   blue:brBlue, or:brOrange, bkHi:brBlackHi, bkLo:brBlackLo, cHi:brCyanHi, yel:brYellow, cLo:brCyanLo, labelY:887, yearY:902}
];

// spikes: a zigzag through each bin's high and low
function zigzag(x, y, hi, lo, span) {
  const n = hi.length, st = span / n, pts = [];
  hi.forEach((h, i) => { pts.push([x((i + 0.25) * st), y(h)]); pts.push([x((i + 0.75) * st), y(lo[i])]); });
  return d3.line()(pts);
}
// solid core: the range covered by every bin in a small neighbourhood
function core(x, y, hi, lo, span, win) {
  const n = hi.length, st = span / n, h = Math.floor(win / 2);
  const rows = hi.map((_, i) => {
    const a = Math.max(0, i - h), b = Math.min(n, i + h + 1);
    return {i, t: d3.min(hi.slice(a, b)), b: d3.max(lo.slice(a, b))};
  });
  return d3.area().curve(d3.curveStepAfter).x(d => x(d.i * st)).y0(d => y(d.b)).y1(d => y(d.t))
    (rows.concat([{i: n, t: rows[n - 1].t, b: rows[n - 1].b}]));
}
function series(x, y, vals, span) {
  const st = span / vals.length;
  return d3.line().x((d, i) => x((i + 0.5) * st)).y(d => y(d))(vals);
}

panels.forEach(p => {
  const x = d3.scaleLinear().domain([0, p.span]).range([p.x0, p.x1]);
  const y = d3.scaleLinear().domain([-5, 10]).range([p.y1, p.y0]);
  p.x = x; p.y = y;
  const clipId = 'clip-' + p.id;
  svg.append('clipPath').attr('id', clipId).append('rect')
    .attr('x', p.x0).attr('y', p.y0).attr('width', p.x1 - p.x0).attr('height', p.y1 - p.y0);
  const g = svg.append('g').attr('clip-path', `url(#${clipId})`).attr('stroke-linejoin', 'bevel');
  // black daily series: spikes, then solid core on top
  g.append('path').attr('d', zigzag(x, y, p.bkHi, p.bkLo, p.span)).attr('fill', 'none')
    .attr('stroke', p.top ? '#1a1a1a' : '#2e2e2e').attr('stroke-width', p.top ? 1.3 : 0.9);
  g.append('path').attr('d', core(x, y, p.bkHi, p.bkLo, p.span, p.top ? 3 : 5)).attr('fill', C.black);
  if (p.top) {
    g.append('path').attr('d', zigzag(x, y, p.blueHi, p.blueLo, p.span)).attr('fill', 'none').attr('stroke', C.blue).attr('stroke-width', 1.3);
    g.append('path').attr('d', core(x, y, p.blueHi, p.blueLo, p.span, 3)).attr('fill', C.blue);
    g.append('path').attr('d', zigzag(x, y, p.orHi, p.orLo, p.span)).attr('fill', 'none').attr('stroke', C.orange).attr('stroke-width', 1.3);
    g.append('path').attr('d', core(x, y, p.orHi, p.orLo, p.span, 3)).attr('fill', C.orange);
    [[p.cHi, C.cyan], [p.yel, C.yellow], [p.cLo, C.cyan]].forEach(([v, c]) =>
      g.append('path').attr('d', series(x, y, v, p.span)).attr('fill', 'none').attr('stroke', c).attr('stroke-width', 2.2));
  } else {
    [[p.cHi, C.cyan], [p.yel, C.yellow], [p.cLo, C.cyan]].forEach(([v, c]) =>
      g.append('path').attr('d', series(x, y, v, p.span)).attr('fill', 'none').attr('stroke', c).attr('stroke-width', 1.1));
    g.append('path').attr('d', series(x, y, p.or, p.span)).attr('fill', 'none').attr('stroke', C.orange).attr('stroke-width', 1.2);
    g.append('path').attr('d', series(x, y, p.blue, p.span)).attr('fill', 'none').attr('stroke', C.blue).attr('stroke-width', 1.2);
  }
  // frame
  svg.append('rect').attr('x', p.x0).attr('y', p.y0).attr('width', p.x1 - p.x0).attr('height', p.y1 - p.y0)
    .attr('fill', 'none').attr('stroke', C.axis).attr('stroke-width', 1);
  // ticks
  const majX = d3.range(0, p.span + 1, p.major), minX = d3.range(0, p.span + 1, p.minor);
  const majY = yTicks, minY = d3.range(-5, 10.01, 0.5);
  const ax = (fn, scale, vals, size, tr) => {
    const a = svg.append('g').attr('transform', tr).call(fn(scale).tickValues(vals).tickSize(size).tickFormat(''));
    a.select('.domain').remove();
    a.selectAll('line').attr('stroke', C.axis);
  };
  ax(d3.axisBottom, x, minX, 2, `translate(0,${p.y1})`); ax(d3.axisBottom, x, majX, 4, `translate(0,${p.y1})`);
  ax(d3.axisTop, x, minX, 2, `translate(0,${p.y0})`); ax(d3.axisTop, x, majX, 4, `translate(0,${p.y0})`);
  ax(d3.axisLeft, y, minY, 2, `translate(${p.x0},0)`); ax(d3.axisLeft, y, majY, 4, `translate(${p.x0},0)`);
  ax(d3.axisRight, y, minY, 2, `translate(${p.x1},0)`); ax(d3.axisRight, y, majY, 4, `translate(${p.x1},0)`);
  // labels
  svg.append('g').selectAll('text').data(majY).join('text')
    .attr('x', p.x0 - 8).attr('y', d => y(d) + 5).attr('text-anchor', 'end')
    .attr('font-size', 14).attr('fill', '#111').text(d => d);
  svg.append('g').selectAll('text').data(p.ticks).join('text')
    .attr('x', d => x(d)).attr('y', p.labelY).attr('text-anchor', 'middle')
    .attr('font-size', 14).attr('fill', '#111').text(d => d);
  svg.append('text').attr('x', (p.x0 + p.x1) / 2).attr('y', p.yearY).attr('text-anchor', 'middle')
    .attr('font-size', 14).attr('fill', '#111').text('Year');
});

// slide border
svg.append('rect').attr('x', 0).attr('y', 0).attr('width', W).attr('height', 8).attr('fill', '#0a1ca6');
svg.append('rect').attr('x', 0).attr('y', 0).attr('width', 5).attr('height', H).attr('fill', '#0a1ca6');

// arrows
function arrow(pathPts, color, width, len, half) {
  const n = pathPts.length, tip = pathPts[n - 1], from = pathPts[n - 2];
  const dx = tip[0] - from[0], dy = tip[1] - from[1], L = Math.hypot(dx, dy), ux = dx / L, uy = dy / L;
  const bx = tip[0] - ux * len, by = tip[1] - uy * len;
  const shaft = pathPts.slice(0, n - 1).concat([[bx + ux * 2, by + uy * 2]]);
  svg.append('path').attr('d', d3.line()(shaft)).attr('fill', 'none').attr('stroke', color)
    .attr('stroke-width', width).attr('stroke-linejoin', 'miter');
  svg.append('path').attr('d', d3.line()([tip, [bx - uy * half, by + ux * half], [bx + uy * half, by - ux * half]]) + 'Z')
    .attr('fill', color);
}
const RED = '#ff2a00';
[[panels[0], panels[2]], [panels[1], panels[3]]].forEach(([t, b]) => {
  arrow([[t.x(0), t.y(10)], [b.x(0) - 4, b.y(10) - 5]], RED, 5, 14, 6);
  arrow([[t.x(900), t.y(10)], [t.x(900), t.y(-3.6)], [b.x(985), b.y(10) - 8]], RED, 5, 15, 6.5);
});
arrow([[-12, 795], [panels[2].x(95), panels[2].y(2.0)]], '#5b8ef2', 5, 24, 10);

// titles
const serif = '"Liberation Serif", "Times New Roman", Times, serif';
svg.append('text').attr('x', 100).attr('y', 55).attr('font-family', serif).attr('font-weight', 'bold')
  .attr('font-size', 38).attr('textLength', 149).attr('lengthAdjust', 'spacingAndGlyphs').text('“-NAO”');
svg.append('text').attr('x', 267).attr('y', 55).attr('font-family', serif).attr('font-weight', 'bold')
  .attr('font-size', 28).attr('textLength', 211).attr('lengthAdjust', 'spacingAndGlyphs').text('(S=0.45, K=0.4)');
svg.append('text').attr('x', 640).attr('y', 57).attr('font-family', serif).attr('font-weight', 'bold')
  .attr('font-size', 36).attr('textLength', 126).attr('lengthAdjust', 'spacingAndGlyphs').text('Gaussian');

// explanatory text
const FS = 37;
function line(yb, parts) {
  const t = svg.append('text').attr('x', 25).attr('y', yb).attr('font-family', serif).attr('font-size', FS)
    .style('white-space', 'pre').attr('fill', '#000');
  parts.forEach(pt => {
    const s = t.append('tspan').text(pt.t);
    if (pt.b) s.attr('font-weight', 'bold');
    if (pt.c) s.attr('fill', pt.c);
    if (pt.sup) s.attr('font-size', 22).attr('dy', -14);
    if (pt.after) s.attr('dy', 14);
  });
  return t;
}
function underline(yb, txt, color) {
  const m = svg.append('text').attr('x', 25).attr('y', yb).attr('font-family', serif).attr('font-size', FS)
    .attr('font-weight', 'bold').attr('fill', 'none').text(txt);
  const w = m.node().getComputedTextLength(); m.remove();
  svg.append('rect').attr('x', 25).attr('y', yb + 4).attr('width', w).attr('height', 2.5).attr('fill', color);
}
const BLUE_T = '#3b6cf3', OR_T = '#ff6a00';
line(947, [{t:'Blue curves:', b:1, c:BLUE_T}, {t:' Time series of decadal maxima'}]);
underline(947, 'Blue curves', BLUE_T);
line(992, [{t:'(i.e the largest daily anomaly in each decade  = 1000 days'}]);
line(1037, [{t:' = 10 100-day winters)'}]);
line(1130, [{t:'Orange curves', b:1, c:OR_T}, {t:': Time series of 99.5'}, {t:'th', sup:1}, {t:' decadal percentile', after:1}]);
underline(1130, 'Orange curves', OR_T);
line(1173, [{t:'(i.e. the 5'}, {t:'th', sup:1}, {t:' largest daily anomaly in each decade)', after:1}]);
</script>
</body></html>
